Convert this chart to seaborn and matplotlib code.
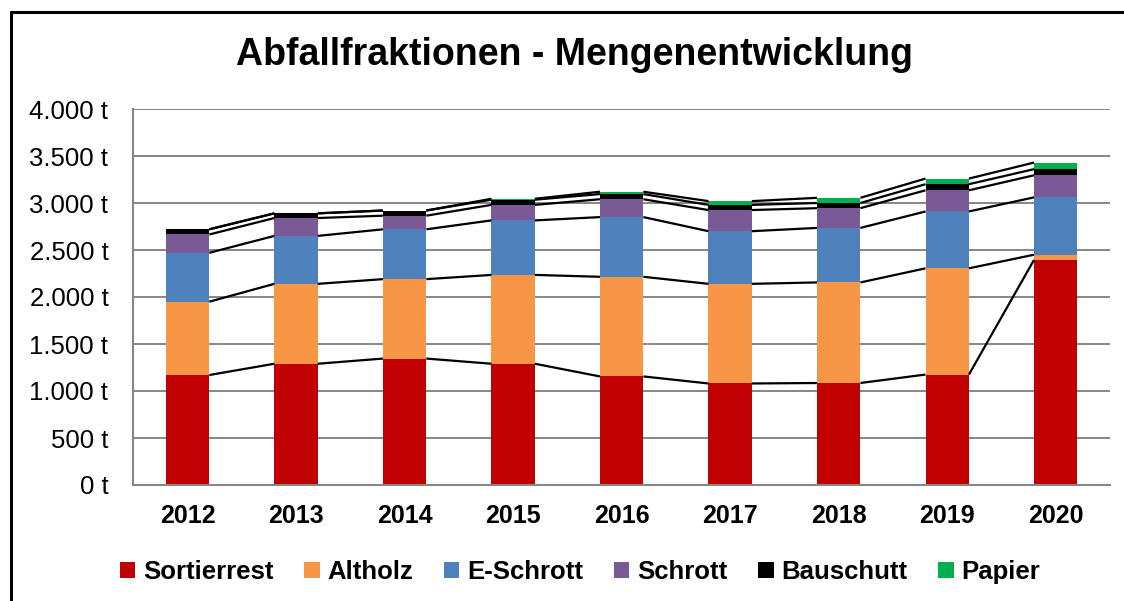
import matplotlib
matplotlib.use("Agg")
import matplotlib.pyplot as plt
from matplotlib.patches import Patch
from matplotlib.lines import Line2D
from matplotlib.ticker import FixedLocator
import seaborn as sns
import pandas as pd
import numpy as np

years = ["2012", "2013", "2014", "2015", "2016", "2017", "2018", "2019", "2020"]
sortierrest = [1170, 1290, 1345, 1290, 1155, 1080, 1085, 1175, 2395]
altholz = [780, 850, 845, 945, 1060, 1060, 1070, 1130, 55]
e_schrott = [520, 510, 530, 580, 635, 560, 580, 605, 610]
schrott = [195, 190, 145, 165, 190, 225, 210, 225, 235]
bauschutt = [55, 50, 55, 55, 55, 55, 55, 65, 65]
papier = [0, 0, 0, 10, 25, 40, 55, 60, 70]

series_names = ["Sortierrest", "Altholz", "E-Schrott", "Schrott", "Bauschutt", "Papier"]
series_values = [sortierrest, altholz, e_schrott, schrott, bauschutt, papier]
series_colors = ["#C00000", "#F79646", "#4F81BD", "#7A5A96", "#000000", "#00B050"]

ytick_values = [0, 500, 1000, 1500, 2000, 2500, 3000, 3500, 4000]
ytick_labels = ["0 t", "500 t", "1.000 t", "1.500 t", "2.000 t", "2.500 t",
                "3.000 t", "3.500 t", "4.000 t"]
title = "Abfallfraktionen - Mengenentwicklung"

sns.set_theme(style="white")
plt.rcParams["font.family"] = ["Liberation Sans", "DejaVu Sans"]
plt.rcParams["text.color"] = "black"
plt.rcParams["xtick.color"] = "black"
plt.rcParams["ytick.color"] = "black"
plt.rcParams["axes.labelcolor"] = "black"

fig = plt.figure(figsize=(11.24, 6.01), dpi=100)
ax = fig.add_axes([133.3 / 1124, (601 - 485) / 601, (1110 - 133.3) / 1124, (485 - 109) / 601])

df = pd.DataFrame({"Jahr": years})
cum = np.zeros(len(years))
cums = []
for vals in series_values:
    cum = cum + np.array(vals, dtype=float)
    cums.append(cum.copy())

GRID = "#868686"
ax.set_axisbelow(True)
for yv in ytick_values[1:]:
    ax.axhline(yv, color=GRID, lw=1.4, zorder=0)

# draw stacked bars from top layer to bottom layer
for name, color, c in reversed(list(zip(series_names, series_colors, cums))):
    d = df.copy()
    d["Menge"] = c
    sns.barplot(data=d, x="Jahr", y="Menge", color=color, width=0.4,
                saturation=1, linewidth=0, errorbar=None, ax=ax, zorder=2)

# series lines connecting stacked tops
bw = 0.4
for c in cums:
    for i in range(len(years) - 1):
        ax.plot([i + bw / 2, i + 1 - bw / 2], [c[i], c[i + 1]], color="black",
                lw=1.6, zorder=3, solid_capstyle="butt")

ax.set_xlim(-0.5, len(years) - 0.5)
ax.set_ylim(0, 4000)
ax.set_xlabel("")
ax.set_ylabel("")
ax.set_yticks(ytick_values)
ax.set_yticklabels(ytick_labels, fontsize=18.5, color="black")
ax.set_xticks(range(len(years)))
ax.set_xticklabels(years, fontsize=18, fontweight="bold", color="black")
ax.xaxis.set_minor_locator(FixedLocator(np.arange(-0.5, len(years), 1.0)))
ax.tick_params(axis="x", which="major", length=0, pad=14)
ax.tick_params(axis="x", which="minor", length=7, width=1.4, color=GRID, direction="out")
ax.tick_params(axis="y", which="major", length=7, width=1.4, color=GRID, direction="out", pad=11)

for s in ["top", "right"]:
    ax.spines[s].set_visible(False)
for s in ["left", "bottom"]:
    ax.spines[s].set_color(GRID)
    ax.spines[s].set_linewidth(1.5)

fig.text(0.511, 1 - 55 / 601, title, ha="center", va="center",
         fontsize=27, fontweight="bold", color="black")

handles = [Patch(facecolor=c, edgecolor="none") for c in series_colors]
leg = fig.legend(handles, series_names, loc="center", ncol=6,
                 bbox_to_anchor=(0.516, 1 - 572 / 601), frameon=False,
                 prop={"size": 18.5, "weight": "bold"},
                 handlelength=0.6, handleheight=0.6, handletextpad=0.3,
                 columnspacing=1.2)
for t in leg.get_texts():
    t.set_color("black")

# outer chart border (left and top visible)
xl = 11 / 1124
yt = 1 - 12 / 601
fig.add_artist(Line2D([xl, xl], [0, yt], transform=fig.transFigure, color="black", lw=2.2))
fig.add_artist(Line2D([xl, 1.01], [yt, yt], transform=fig.transFigure, color="black", lw=2.2))

fig.savefig("out.png", dpi=100, facecolor="white")
